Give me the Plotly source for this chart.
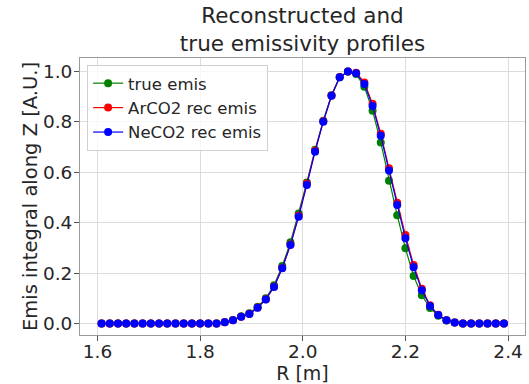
import plotly.graph_objects as go

# Radial positions: 50 bin centres between 1.6 m and 2.4 m
r_values = [round(1.608 + 0.016 * i, 3) for i in range(50)]

true_emis = [0.0] * 15 + [
    0.006, 0.014, 0.028, 0.040, 0.066, 0.100, 0.152, 0.228, 0.322, 0.436,
    0.560, 0.690, 0.805, 0.906, 0.978, 1.000, 0.990, 0.940, 0.845, 0.718,
    0.567, 0.430, 0.298, 0.188, 0.112, 0.061, 0.030, 0.012, 0.004,
] + [0.0] * 6

arco2_rec = [0.0] * 15 + [
    0.005, 0.013, 0.026, 0.038, 0.063, 0.096, 0.146, 0.220, 0.313, 0.428,
    0.556, 0.686, 0.803, 0.905, 0.979, 1.000, 0.995, 0.957, 0.872, 0.753,
    0.616, 0.479, 0.351, 0.232, 0.138, 0.072, 0.034, 0.013, 0.004,
] + [0.0] * 6

neco2_rec = [0.0] * 15 + [
    0.005, 0.013, 0.026, 0.037, 0.062, 0.095, 0.145, 0.219, 0.311, 0.424,
    0.550, 0.682, 0.801, 0.904, 0.978, 1.000, 0.993, 0.951, 0.863, 0.745,
    0.607, 0.470, 0.338, 0.223, 0.132, 0.069, 0.033, 0.013, 0.004,
] + [0.0] * 6

x_ticks = [1.6, 1.8, 2.0, 2.2, 2.4]
x_tick_text = ["1.6", "1.8", "2.0", "2.2", "2.4"]
y_ticks = [0.0, 0.2, 0.4, 0.6, 0.8, 1.0]
y_tick_text = ["0.0", "0.2", "0.4", "0.6", "0.8", "1.0"]

series = [
    ("true emis", true_emis, "#008000"),
    ("ArCO2 rec emis", arco2_rec, "#ff0000"),
    ("NeCO2 rec emis", neco2_rec, "#0000ff"),
]

FONT = "DejaVu Sans"
TEXT = "#262626"

fig = go.Figure()
for name, vals, col in series:
    fig.add_trace(go.Scatter(
        x=r_values, y=vals, name=name, mode="lines+markers",
        line=dict(color=col, width=1.2),
        marker=dict(color=col, size=8),
    ))

axis_common = dict(
    showgrid=True, gridcolor="#dcdcdc", gridwidth=1,
    showline=True, linecolor="#9a9a9a", linewidth=1, mirror=True,
    ticks="outside", ticklen=5, tickcolor="#555555",
    tickfont=dict(family=FONT, size=18.5, color=TEXT),
    zeroline=False,
)

fig.update_layout(
    width=529, height=384,
    margin=dict(l=80, r=4, t=58, b=49),
    paper_bgcolor="white", plot_bgcolor="white",
    font=dict(family=FONT, color=TEXT),
    title=dict(
        text="Reconstructed and<br>true emissivity profiles",
        x=0.5, xref="paper", xanchor="center",
        y=1 - 23 / 384, yref="container", yanchor="bottom",
        pad=dict(b=0, t=0),
        font=dict(family=FONT, size=21.5, color=TEXT),
    ),
    xaxis=dict(
        range=[1.566, 2.433], tickvals=x_ticks, ticktext=x_tick_text,
        ticklabelstandoff=-5,
        title=dict(text="R [m]", font=dict(family=FONT, size=19, color=TEXT), standoff=2),
        **axis_common,
    ),
    yaxis=dict(
        range=[-0.046, 1.054], tickvals=y_ticks, ticktext=y_tick_text,
        ticklabelstandoff=-2,
        title=dict(text="Emis integral along Z [A.U.]", font=dict(family=FONT, size=19.5, color=TEXT), standoff=0),
        **axis_common,
    ),
    legend=dict(
        x=0.016, y=0.975, xanchor="left", yanchor="top",
        bgcolor="rgba(255,255,255,0.8)", bordercolor="#d0d0d0", borderwidth=1,
        font=dict(family=FONT, size=16.5, color=TEXT),
    ),
    showlegend=True,
)

fig.write_html("out.html")
